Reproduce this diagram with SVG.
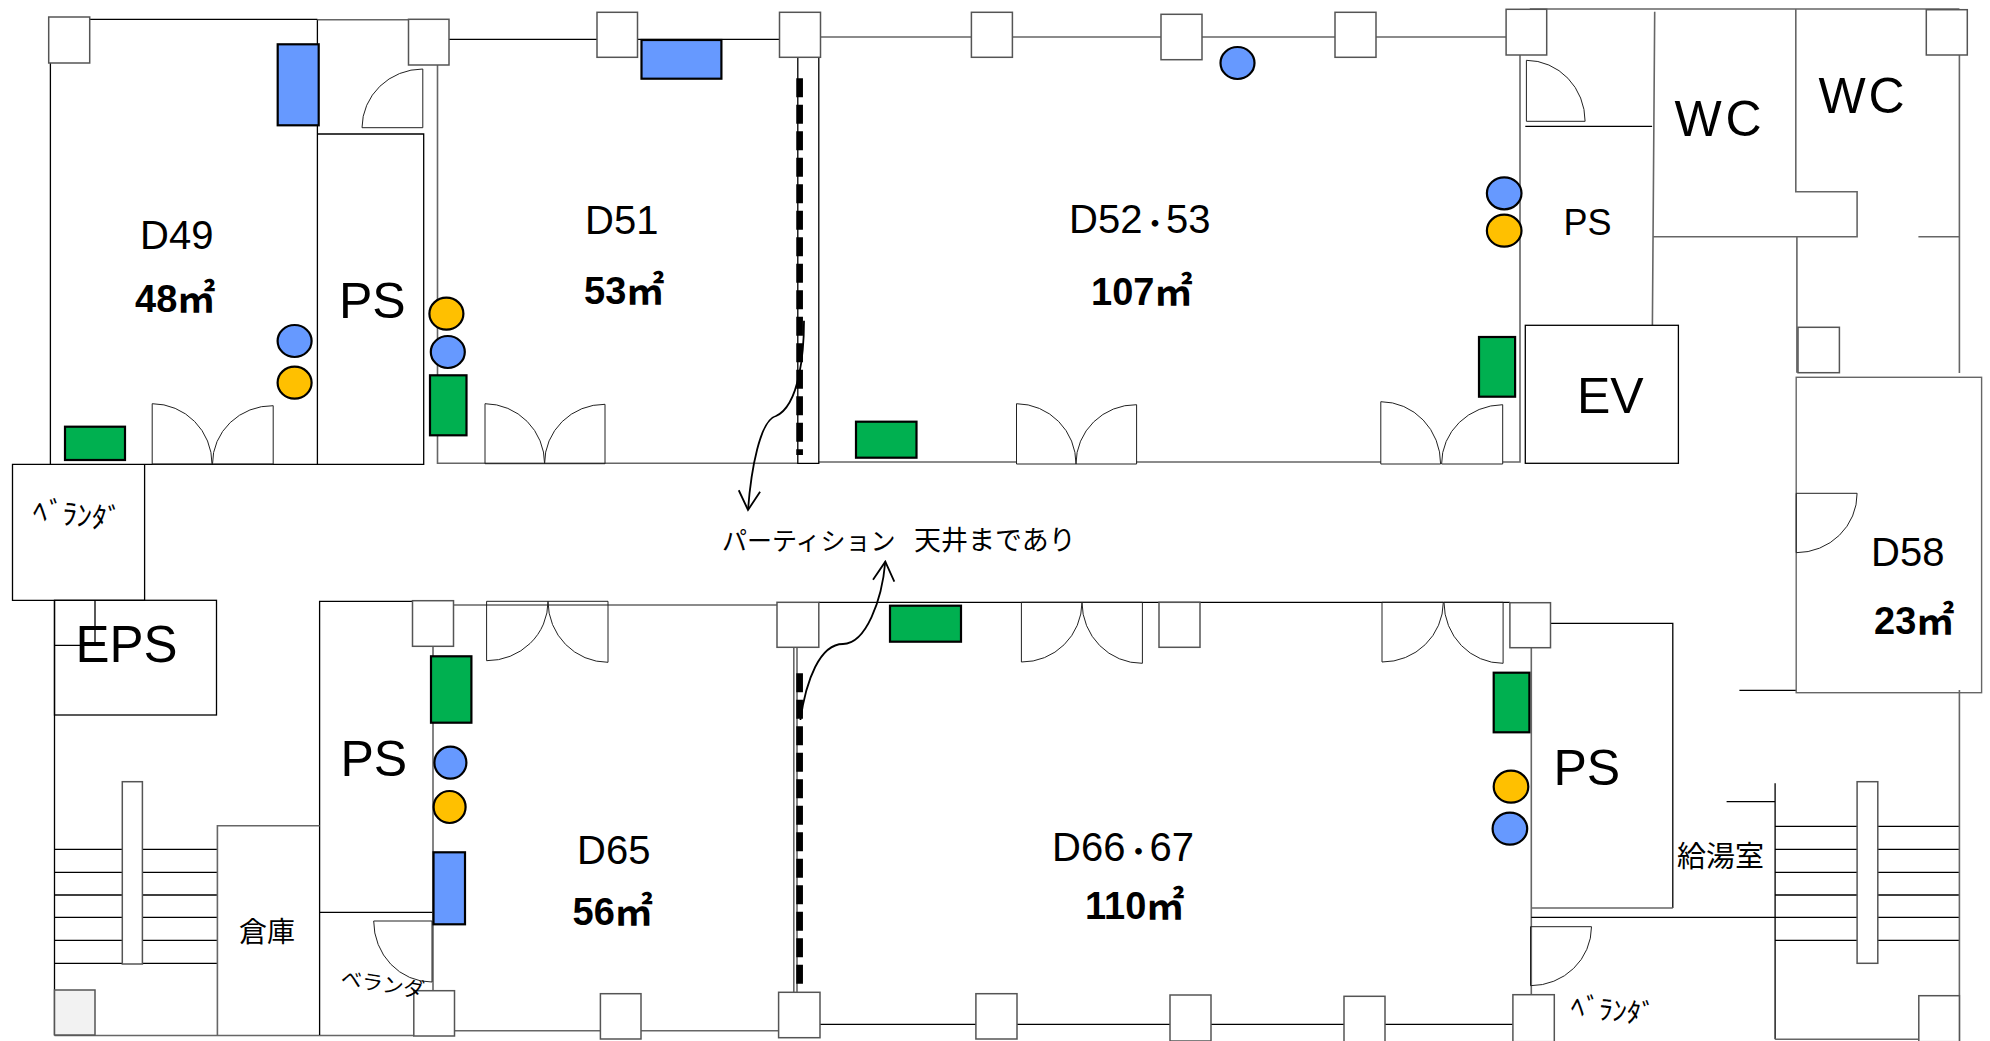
<svg xmlns="http://www.w3.org/2000/svg" width="1990" height="1041" viewBox="0 0 1990 1041">
<defs>
<style>
text{font-family:"Liberation Sans","Noto Sans CJK JP",sans-serif;fill:#000}
.jp{font-family:"Noto Sans CJK JP",sans-serif}
.w{fill:none;stroke:#000;stroke-width:1.3}
.g{fill:none;stroke:#666;stroke-width:1.6}
.f{fill:none;stroke:#333;stroke-width:1.2}
.c{fill:#fff;stroke:#555;stroke-width:1.5}
.d{fill:none;stroke:#222;stroke-width:1}
.b{fill:#6699ff;stroke:#000;stroke-width:2.2}
.o{fill:#ffc000;stroke:#000;stroke-width:2.2}
.e{fill:#00b050;stroke:#000;stroke-width:2.2}
.n{font-size:40px}
.a{font-size:38px;font-weight:bold}
.l{font-size:50px}
.dot{font-size:26px;font-weight:bold}
.p{fill:none;stroke:#000;stroke-width:6.7;stroke-dasharray:19 7.5}
.ar{fill:none;stroke:#000;stroke-width:1.8;marker-end:url(#open)}
</style>
<marker id="open" viewBox="-22 -13 24 26" markerWidth="24" markerHeight="26" refX="0" refY="0" orient="auto" markerUnits="userSpaceOnUse"><path d="M-19,-10.7 L0,0 L-19,10.7" fill="none" stroke="#000" stroke-width="1.8"/></marker>
</defs>
<rect width="1990" height="1041" fill="#fff"/>

<g id="walls">
<path class="w" d="M89.7,19.3H317.4M50.4,63V464.3H423.7V134H317.4M317.4,19.3V464.3"/>
<path class="g" d="M317.4,19.7H449M437.5,65V463.3H798"/>
<path class="w" d="M449,39.3H597M637.5,39.3H779.5"/>
<path class="g" d="M820.5,37H1506.1M818.8,462H1016M1136,462H1381M1503,462H1520V55"/>
<path class="w" d="M797.8,57V463.3H818.8V57"/>
<path class="g" d="M1529.8,9H1959.4M1795.8,9V191.7H1857.1V236.7H1652.8M1796.9,236.7V372.7M1918.4,236.7H1959.4M1654.7,11.7L1652.4,325"/>
<path class="w" d="M1525.3,126.3H1652.1"/>
<path class="g" d="M1959.4,55V373"/>
<path class="w" d="M50.4,464.3H12.5V600.3H144.6V464.3"/>
<path class="w" d="M54.5,600.3V1035M54.5,849.3H217.4M54.5,872.3H217.4M54.5,895H217.4M54.5,917.3H217.4M54.5,940.3H217.4M54.5,963.3H217.4"/>
<path class="g" d="M54.5,1035.5H414"/>
<path class="w" d="M412.5,601.3H319.6V1035M319.6,912.3H433"/>
<path class="g" d="M217.4,1035V825.7H319.6M433,646V990"/>
<path class="g" d="M453.6,605H777M454.5,1030.7H778.6"/>
<path class="w" d="M818.8,602.3H1509.9M820,1024.3H1512.9"/>
<path class="g" d="M793.8,647.3V992M797,647.3V992"/>
<path class="w" d="M1550.5,623.3H1672.8V908"/>
<path class="g" d="M1531.3,647.7V994.7M1531.3,908H1672.8"/>
<path class="w" d="M1531.3,917.3H1959.4M1726.6,801.7H1775.1M1739.4,690.3H1796.2M1775.1,783.3V1039.3M1775.1,826.3H1959.4M1775.1,849.3H1959.4M1775.1,872.3H1959.4M1775.1,895H1959.4M1775.1,940.3H1959.4"/>
<path class="g" d="M1959.4,690V1041M1775.1,1039.3H1918.8"/>
</g>

<g id="columns">
<rect class="c" x="48.7" y="17" width="41" height="46"/>
<rect class="c" x="408.5" y="19.3" width="40.5" height="45.7"/>
<rect class="c" x="597" y="12.3" width="40.5" height="45"/>
<rect class="c" x="779.5" y="12.3" width="41" height="45"/>
<rect class="c" x="971.4" y="12.3" width="41" height="45"/>
<rect class="c" x="1161" y="14.3" width="41" height="45.4"/>
<rect class="c" x="1335" y="12.3" width="41" height="45"/>
<rect class="c" x="1506.1" y="9.3" width="40.6" height="45.7"/>
<rect class="c" x="1926.3" y="9.7" width="41" height="45.3"/>
<rect class="c" x="1798" y="327.3" width="41.4" height="45.4"/>
<rect class="c" x="412.5" y="600.7" width="41" height="45.6"/>
<rect class="c" x="777" y="602.3" width="41.8" height="45"/>
<rect class="c" x="1159" y="602.3" width="41" height="45"/>
<rect class="c" x="1509.9" y="602.7" width="40.6" height="45"/>
<rect class="c" x="54.5" y="990" width="40.5" height="45" style="fill:#f2f2f2"/>
<rect class="c" x="413.8" y="990.7" width="40.7" height="45.3"/>
<rect class="c" x="600.4" y="993.7" width="40.6" height="45.3"/>
<rect class="c" x="778.6" y="992.3" width="41.4" height="45.4"/>
<rect class="c" x="975.9" y="993.7" width="41.1" height="45.3"/>
<rect class="c" x="1170" y="995" width="41" height="46"/>
<rect class="c" x="1344" y="996.3" width="41" height="46"/>
<rect class="c" x="1512.9" y="994.7" width="41.4" height="47"/>
<rect class="c" x="1918.8" y="995.7" width="40.6" height="46"/>
<rect class="c" x="122.3" y="781.7" width="20.1" height="182.3"/>
<rect class="c" x="1857.1" y="781.7" width="20.7" height="181.6"/>
</g>

<g id="partitions">
<path class="p" d="M799.6,78.3V455"/>
<path class="p" d="M799.6,673.3V984"/>
</g>

<g id="ev"><rect class="w" x="1525.3" y="325.3" width="153.1" height="138"/><text class="l" x="1577" y="413.3">EV</text></g>
<g id="room-d58"><rect class="g" x="1796.2" y="377.3" width="185.4" height="315.4" style="stroke-width:1.4"/><path class="d" d="M1857.1,493.3A61,59 0 0 1 1796.2,552.7V493.3H1857.1"/><text class="n" x="1871" y="566">D58</text><text class="a" x="1874" y="634">23㎡</text></g>

<g id="doors">
<path class="d" d="M422.8,69A61,59 0 0 0 362,127.7H422.8Z"/>
<path class="d" d="M152.2,403.7A60,60 0 0 1 212,464H152.2Z"/>
<path class="d" d="M273.2,405.7A60,58 0 0 0 212.5,464H273.2Z"/>
<path class="d" d="M485,403.7A60,60 0 0 1 544.6,463.7H485Z"/>
<path class="d" d="M605,404.3A60,59 0 0 0 544.6,463.7H605Z"/>
<path class="d" d="M1016.5,403.7A60,60 0 0 1 1076,464H1016.5Z"/>
<path class="d" d="M1136.6,404.7A60,59 0 0 0 1076,464H1136.6Z"/>
<path class="d" d="M1380.8,401.7A60,62 0 0 1 1440.6,464H1380.8Z"/>
<path class="d" d="M1502.7,404.7A62,59 0 0 0 1441.6,464H1502.7Z"/>
<path class="d" d="M1526.4,60.3A59,61 0 0 1 1585.1,121.3H1526.4Z"/>
<path class="d" d="M486.6,660.7A61,59 0 0 0 548,601.3H486.6Z"/>
<path class="d" d="M608,662.3A60,61 0 0 1 548,601.3H608Z"/>
<path class="d" d="M1021.4,662A60,60 0 0 0 1082,602.3H1021.4Z"/>
<path class="d" d="M1142.4,663.3A60,61 0 0 1 1082,602.3H1142.4Z"/>
<path class="d" d="M1382,662A61,60 0 0 0 1443.3,602.3H1382Z"/>
<path class="d" d="M1503.1,663.3A59,61 0 0 1 1444,602.3H1503.1Z"/>
<path class="d" d="M373.7,921A58,61 0 0 0 432,982V921Z"/>
<path class="d" d="M1591.5,926.7A61,59 0 0 1 1530.5,985.7V926.7Z"/>
</g>

<g id="equipment">
<rect class="b" x="277.7" y="44.3" width="41" height="81"/>
<rect class="b" x="641.5" y="40" width="79.9" height="38.7"/>
<rect class="b" x="433.5" y="852.3" width="31.5" height="72"/>
<rect class="e" x="65" y="426.7" width="60" height="33.3"/>
<rect class="e" x="430" y="375.3" width="36.5" height="60"/>
<rect class="e" x="856" y="421.7" width="60.5" height="36"/>
<rect class="e" x="1479" y="337" width="36.1" height="59.7"/>
<rect class="e" x="431" y="656.3" width="40.4" height="66.4"/>
<rect class="e" x="890" y="605.7" width="71" height="36"/>
<rect class="e" x="1493.7" y="672.7" width="35.7" height="59.6"/>
<ellipse class="b" cx="294.6" cy="341" rx="17" ry="16"/>
<ellipse class="o" cx="294.6" cy="382.7" rx="17" ry="16"/>
<ellipse class="o" cx="446.4" cy="313.7" rx="17" ry="16"/>
<ellipse class="b" cx="447.8" cy="352" rx="17" ry="16"/>
<ellipse class="b" cx="1237.5" cy="63" rx="17" ry="16"/>
<ellipse class="b" cx="1504.2" cy="193.3" rx="17.3" ry="16"/>
<ellipse class="o" cx="1504.2" cy="230.7" rx="17.3" ry="16"/>
<ellipse class="b" cx="450.4" cy="762.7" rx="16" ry="16"/>
<ellipse class="o" cx="449.6" cy="807" rx="16" ry="16"/>
<ellipse class="o" cx="1511" cy="786.7" rx="17.3" ry="16"/>
<ellipse class="b" cx="1509.9" cy="828.7" rx="17.3" ry="16"/>
</g>

<g id="connectors">
<path class="ar" d="M804,320.7C804,350 800,405 776,416C760,420 751,470 748,510"/>
<path class="ar" d="M800.4,720C806,680 820,644 843,644C866,644 882,600 885.3,561.7"/>
</g>

<g id="room-d49"><text class="n" x="140" y="249">D49</text><text class="a" x="135" y="312">48㎡</text></g>
<g id="room-d51"><text class="n" x="585" y="234">D51</text><text class="a" x="584" y="304">53㎡</text></g>
<g id="room-d52-53"><text class="n" x="1069" y="233">D52<tspan class="dot" x="1142">・</tspan><tspan x="1166">53</tspan></text><text class="a" x="1091" y="305">107㎡</text></g>
<g id="room-d65"><text class="n" x="577" y="864">D65</text><text class="a" x="572.5" y="925">56㎡</text></g>
<g id="room-d66-67"><text class="n" x="1052" y="860.5">D66<tspan class="dot" x="1125.4">・</tspan><tspan x="1149.5">67</tspan></text><text class="a" x="1085" y="919">110㎡</text></g>
<g id="ps-1"><text class="l" x="339" y="318">PS</text></g>
<g id="ps-2"><text x="1563.5" y="235.3" font-size="36">PS</text></g>
<g id="ps-3"><text class="l" x="340.5" y="775.7">PS</text></g>
<g id="ps-4"><text class="l" x="1553.5" y="785">PS</text></g>
<g id="wc-1"><text class="l" x="1674.5" y="135.7" textLength="87">WC</text></g>
<g id="wc-2"><text class="l" x="1818.5" y="112.7" textLength="86">WC</text></g>
<g id="eps"><rect x="54.5" y="600.3" width="162" height="114.7" class="w"/><path class="w" d="M95,600.3V645.3H54.5"/><text class="l" x="75.5" y="662.3" style="font-size:51px">EPS</text></g>
<g id="storage"><text class="jp" x="239" y="942" font-size="28">倉庫</text></g>
<g id="kitchen"><text class="jp" x="1677" y="867" font-size="29">給湯室</text></g>
<g id="balcony-1"><text class="jp" transform="translate(32,521) rotate(6)" font-size="29.5">ﾍﾞﾗﾝﾀﾞ</text></g>
<g id="balcony-2"><text class="jp" transform="translate(340,985) rotate(9)" font-size="21">ベランダ</text></g>
<g id="balcony-3"><text class="jp" transform="translate(1570,1016) rotate(6)" font-size="28">ﾍﾞﾗﾝﾀﾞ</text></g>
<g id="partition-note"><text class="jp" x="722" y="550" font-size="25">パーティション<tspan x="914" font-size="27">天井まであり</tspan></text></g>
</svg>
